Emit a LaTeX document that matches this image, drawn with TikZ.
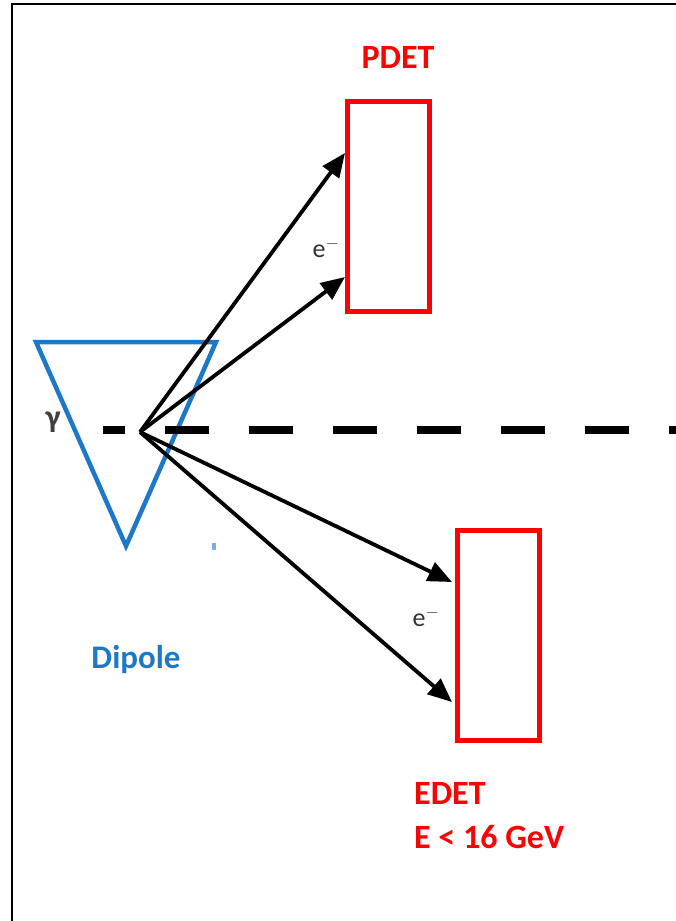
\documentclass[tikz,border=0pt]{standalone}
\usepackage{fontspec}
\setmainfont{Carlito}
\usetikzlibrary{arrows.meta}
\definecolor{detred}{RGB}{255,0,0}
\definecolor{dipblue}{RGB}{30,120,200}
\begin{document}
\begin{tikzpicture}[x=1pt,y=-1pt,
  det/.style={draw=detred,line width=5pt,minimum width=82pt,minimum height=210pt,inner sep=0pt},
  ray/.style={line width=3.8pt,-{Triangle[length=24pt,width=20pt]}},
  lbl/.style={font=\fontsize{34}{44}\selectfont\bfseries,text=detred,inner sep=0pt},
  elbl/.style={font=\fontsize{26}{30}\selectfont,text=black!80,inner sep=0pt}]
\useasboundingbox (0,0) rectangle (676,921);
% frame
\draw[line width=2.5pt] (12,921) -- (12,4) -- (676,4);
% dipole triangle
\draw[draw=dipblue,line width=4.5pt,line join=miter] (36,342) -- (216,342) -- (126,546) -- cycle;
\fill[dipblue!60] (212,543) rectangle (216,550);
\node[font=\fontsize{33}{40}\selectfont\bfseries,text=dipblue,inner sep=0pt] (dip) at (136,660) {Dipole};
% beam line
\coordinate (o) at (140,432);
\coordinate (bstart) at (103,430);
\coordinate (bend) at (676,430);
\draw[line width=8pt,dash pattern=on 44pt off 40pt,dash phase=22pt] (bstart) -- (bend);
\node[font=\fontsize{32}{36}\selectfont\bfseries,text=black!75,inner sep=0pt] (gam) at (53,422) {γ};
% detectors
\node[det] (pdet) at (388,206) {};
\node[lbl] (pl) at (398,57) {PDET};
\node[det] (edet) at (498,635) {};
\node[lbl,align=left,anchor=north west] (el) at (414,782) {EDET\\E < 16 GeV};
% rays
\coordinate (a1) at (345,153);
\coordinate (a2) at (345,277);
\coordinate (a3) at (452,582);
\coordinate (a4) at (452,702);
\draw[ray] (o) -- (a1);
\draw[ray] (o) -- (a2);
\draw[ray] (o) -- (a3);
\draw[ray] (o) -- (a4);
\node[elbl] (e1) at (326,248) {e$^{-}$};
\node[elbl] (e2) at (426,617) {e$^{-}$};
\end{tikzpicture}
\end{document}
